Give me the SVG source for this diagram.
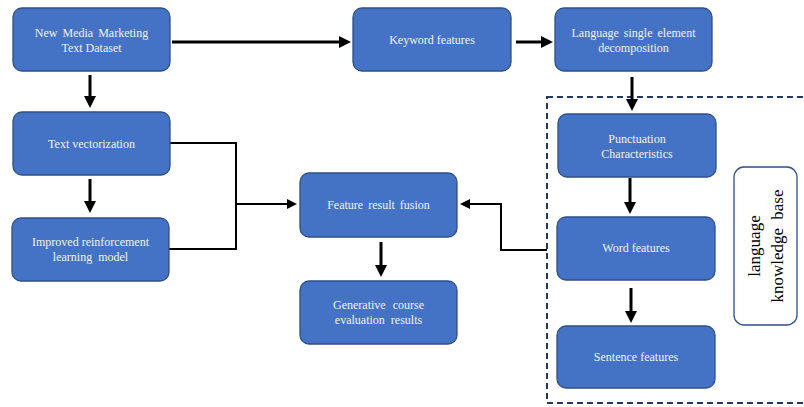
<svg xmlns="http://www.w3.org/2000/svg" width="804" height="407" viewBox="0 0 804 407">
<style>
.box{fill:#4472C4;stroke:#2F4F8A;stroke-width:1.3}
.t{font-family:"Liberation Serif","Times New Roman",serif;font-size:12px;fill:#F2F2F2;text-anchor:middle}
.c{fill:none;stroke:#000;stroke-width:3}
.c2{fill:none;stroke:#000;stroke-width:2}
.kb{font-family:"Liberation Serif","Times New Roman",serif;font-size:17px;fill:#000;text-anchor:middle}
</style>
<defs>
<marker id="ah" markerWidth="4" markerHeight="4" refX="2" refY="2" orient="auto" markerUnits="strokeWidth" viewBox="0 0 4 4"><path d="M0,0 L4,2 L0,4 Z" fill="#000"/></marker>
<marker id="ah2" markerWidth="5" markerHeight="5" refX="2.5" refY="2.5" orient="auto" markerUnits="strokeWidth" viewBox="0 0 5 5"><path d="M0,0 L5,2.5 L0,5 Z" fill="#000"/></marker>
</defs>
<rect x="547" y="97" width="270" height="306" fill="none" stroke="#1F3864" stroke-width="2" stroke-dasharray="6,4"/>
<g id="connectors">
<path class="c" d="M172,42 H345" marker-end="url(#ah)"/>
<path class="c" d="M516,42 H547" marker-end="url(#ah)"/>
<path class="c" d="M632,77 V105" marker-end="url(#ah)"/>
<path class="c" d="M90,75 V102" marker-end="url(#ah)"/>
<path class="c" d="M90,179 V207" marker-end="url(#ah)"/>
<path class="c" d="M630,178 V208" marker-end="url(#ah)"/>
<path class="c" d="M631,288 V317" marker-end="url(#ah)"/>
<path class="c" d="M381,242 V271" marker-end="url(#ah)"/>
<path class="c2" d="M170,143 H236 V249 H169"/>
<path class="c2" d="M236,204 H292" marker-end="url(#ah2)"/>
<path class="c2" d="M547,250 H501 V204 H465" marker-end="url(#ah2)"/>
</g>
<g id="n1"><rect class="box" x="13" y="8" width="157" height="63" rx="9"/><text class="t" x="91.5" y="37" word-spacing="2">New Media Marketing</text><text class="t" x="91.5" y="52">Text Dataset</text></g>
<g id="n2"><rect class="box" x="353" y="8" width="158" height="63" rx="9"/><text class="t" x="432" y="44">Keyword features</text></g>
<g id="n3"><rect class="box" x="555" y="8" width="157" height="63" rx="9"/><text class="t" x="633.5" y="37" word-spacing="2">Language single element</text><text class="t" x="633.5" y="52">decomposition</text></g>
<g id="n4"><rect class="box" x="13" y="112" width="157" height="63" rx="9"/><text class="t" x="91.5" y="148">Text vectorization</text></g>
<g id="n5"><rect class="box" x="12" y="218" width="157" height="63" rx="9"/><text class="t" x="90.5" y="246">Improved reinforcement</text><text class="t" x="90.5" y="261" word-spacing="3">learning model</text></g>
<g id="n6"><rect class="box" x="300" y="173" width="157" height="64" rx="9"/><text class="t" x="378.5" y="209" word-spacing="2">Feature result fusion</text></g>
<g id="n7"><rect class="box" x="300" y="281" width="157" height="63" rx="9"/><text class="t" x="378.5" y="309" word-spacing="4">Generative course</text><text class="t" x="378.5" y="324" word-spacing="3">evaluation results</text></g>
<g id="n8"><rect class="box" x="558" y="114" width="158" height="63" rx="9"/><text class="t" x="637" y="143">Punctuation</text><text class="t" x="637" y="158">Characteristics</text></g>
<g id="n9"><rect class="box" x="557" y="217" width="158" height="63" rx="9"/><text class="t" x="636" y="252">Word features</text></g>
<g id="n10"><rect class="box" x="557" y="326" width="158" height="62" rx="9"/><text class="t" x="636" y="361">Sentence features</text></g>
<g id="n11"><rect x="734" y="167" width="63" height="158" rx="10" fill="#fff" stroke="#2F4F8A" stroke-width="1.3"/><text class="kb" transform="translate(760,246) rotate(-90)">language</text><text class="kb" transform="translate(783,246) rotate(-90)" word-spacing="4">knowledge base</text></g>
</svg>
